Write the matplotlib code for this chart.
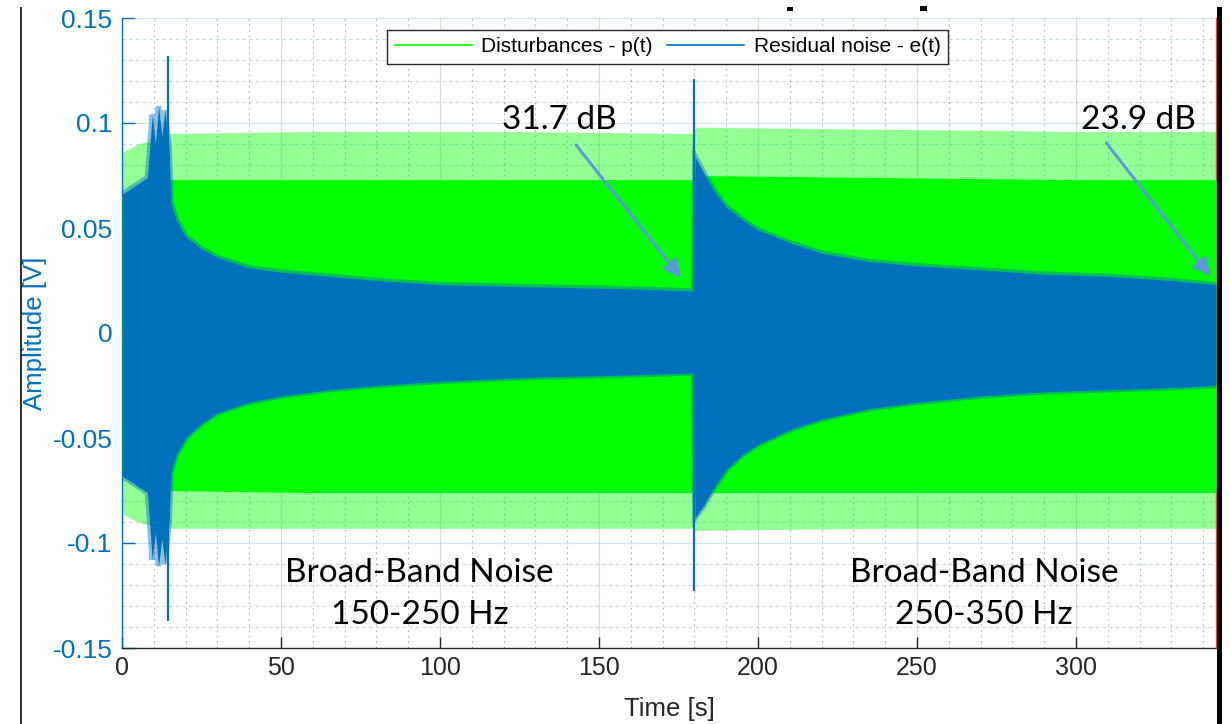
import matplotlib
matplotlib.use("Agg")
import matplotlib.pyplot as plt
from matplotlib.lines import Line2D
from matplotlib.patches import Rectangle
from matplotlib.ticker import MultipleLocator, FixedLocator

# ---------------- data ----------------
# Disturbance p(t): envelope of the dense body and of the spike tops
t_p = [0, 5, 10, 15, 60, 120, 179.5, 180.5, 240, 300, 344]
p_body_up = [0.066, 0.070, 0.072, 0.073, 0.073, 0.073, 0.073, 0.075, 0.074, 0.073, 0.073]
p_peak_up = [0.086, 0.090, 0.092, 0.095, 0.096, 0.096, 0.095, 0.098, 0.097, 0.096, 0.096]
p_body_lo = [-0.068, -0.072, -0.074, -0.075, -0.076, -0.076, -0.076, -0.076, -0.076, -0.076, -0.076]
p_peak_lo = [-0.086, -0.090, -0.092, -0.093, -0.093, -0.093, -0.093, -0.094, -0.093, -0.093, -0.093]

# Residual noise e(t): envelope of the dense body
t_e = [0, 4, 8, 9.5, 10.5, 11.5, 12.5, 13.5, 14.8, 15.4, 17, 20, 25, 30, 40, 50,
       65, 80, 100, 130, 160, 179.7,
       180.2, 183, 186, 190, 195, 200, 210, 220, 235, 250, 270, 290, 310, 330, 344]
e_up = [0.066, 0.070, 0.074, 0.104, 0.090, 0.108, 0.094, 0.106, 0.088, 0.062, 0.054, 0.046, 0.040, 0.036, 0.031, 0.029,
        0.027, 0.025, 0.023, 0.022, 0.021, 0.020,
        0.084, 0.076, 0.068, 0.060, 0.054, 0.049, 0.043, 0.038, 0.034, 0.032, 0.030, 0.028, 0.027, 0.025, 0.023]
e_lo = [-0.068, -0.072, -0.076, -0.108, -0.095, -0.111, -0.098, -0.110, -0.090, -0.066, -0.058, -0.050, -0.043, -0.038, -0.033, -0.030,
        -0.027, -0.025, -0.023, -0.021, -0.020, -0.019,
        -0.088, -0.082, -0.074, -0.065, -0.058, -0.053, -0.046, -0.041, -0.036, -0.033, -0.030, -0.028, -0.027, -0.026, -0.025]

# isolated spikes of e(t)
spike_t = [14.5, 180.0]
spike_top = [0.132, 0.121]
spike_bot = [-0.137, -0.123]

x_ticks = [0, 50, 100, 150, 200, 250, 300]
y_ticks = [-0.15, -0.1, -0.05, 0, 0.05, 0.1, 0.15]
y_tick_labels = ["-0.15", "-0.1", "-0.05", "0", "0.05", "0.1", "0.15"]

series_labels = ["Disturbances - p(t)", "Residual noise - e(t)"]
db_labels = ["31.7 dB", "23.9 dB"]
db_text_xy = [(137.5, 0.1015), (319.5, 0.1015)]
db_arrow_from = [(142.8, 0.0895), (309.5, 0.0905)]
db_arrow_to = [(175.8, 0.0262), (342.3, 0.0270)]
band_labels = ["Broad-Band Noise\n150-250 Hz", "Broad-Band Noise\n250-350 Hz"]
band_xy = [(93.5, -0.1243), (271.0, -0.1243)]

# ---------------- style ----------------
GREEN = "#00FF00"
BLUE = "#0072BD"
ORANGE = "#D95319"
DARK = "#262626"
ARROW = "#5B9BD5"

plt.rcParams["font.family"] = ["Liberation Sans", "DejaVu Sans"]

W, H = 1230, 724
fig = plt.figure(figsize=(W / 100, H / 100), dpi=100)
fig.patch.set_facecolor("white")
L, R, T, B = 122, 1216, 18, 648
ax = fig.add_axes([L / W, (H - B) / H, (R - L) / W, (B - T) / H])

# data
ax.fill_between(t_p, p_peak_lo, p_peak_up, color=GREEN, alpha=0.42, lw=0, zorder=2)
ax.fill_between(t_p, p_body_lo, p_body_up, color=GREEN, lw=0, zorder=3)
ax.fill_between(t_e, e_lo, e_up, color=BLUE, lw=0, zorder=4)
ax.plot(t_e, e_up, color=BLUE, lw=4, alpha=0.45, zorder=4, solid_joinstyle="miter")
ax.plot(t_e, e_lo, color=BLUE, lw=4, alpha=0.45, zorder=4, solid_joinstyle="miter")
ax.vlines(spike_t, spike_bot, spike_top, color=BLUE, lw=1.6, zorder=5)

# axes setup
ax.set_xlim(0, 344)
ax.set_ylim(-0.15, 0.15)
ax.xaxis.set_major_locator(FixedLocator(x_ticks))
ax.yaxis.set_major_locator(FixedLocator(y_ticks))
ax.set_yticklabels(y_tick_labels)
ax.xaxis.set_minor_locator(MultipleLocator(10))
ax.yaxis.set_minor_locator(MultipleLocator(0.01))

ax.grid(True, which="major", axis="x", color=DARK, alpha=0.15, lw=0.9, zorder=0)
ax.grid(True, which="minor", axis="x", color=DARK, alpha=0.35, lw=0.8, ls=(0, (1.5, 3.5)), zorder=0)
ax.grid(True, which="major", axis="y", color=BLUE, alpha=0.18, lw=0.9, zorder=0)
ax.grid(True, which="minor", axis="y", color=BLUE, alpha=0.25, lw=0.8, ls=(0, (3, 3)), zorder=0)
ax.set_axisbelow(True)

ax.spines["top"].set_visible(False)
ax.spines["left"].set_color(BLUE)
ax.spines["bottom"].set_color(DARK)
ax.spines["right"].set_color(ORANGE)
for s in ax.spines.values():
    s.set_linewidth(1.0)

ax.tick_params(axis="y", which="major", direction="in", length=9, width=1, color=BLUE,
               labelcolor=BLUE, labelsize=19, pad=7, right=False)
ax.tick_params(axis="x", which="major", direction="in", length=8, width=1, color=DARK,
               labelcolor=DARK, labelsize=18, pad=6, top=False)
ax.tick_params(which="minor", length=0)

ax.set_xlabel("Time [s]", fontsize=18.5, color=DARK)
ax.set_ylabel("Amplitude [V]", fontsize=18.5, color=BLUE)
ax.xaxis.set_label_coords(0.5, -0.077)
ax.yaxis.set_label_coords(-0.069, 0.5)

# legend
handles = [Line2D([], [], color=GREEN, lw=1.2), Line2D([], [], color=BLUE, lw=1.2)]
leg = ax.legend(handles, series_labels, loc="upper center", bbox_to_anchor=(0.4986, 0.981),
                borderaxespad=0, ncol=2, fontsize=15, frameon=True, fancybox=False,
                edgecolor=DARK, framealpha=1, handlelength=3.7, handletextpad=0.45,
                columnspacing=0.7, borderpad=0.35)
leg.get_frame().set_linewidth(1.0)
leg.set_zorder(10)

# annotations
ann_font = ["Lato", "DejaVu Sans"]
for lab, xy, p0, p1 in zip(db_labels, db_text_xy, db_arrow_from, db_arrow_to):
    ax.text(xy[0], xy[1], lab, fontsize=24, family=ann_font, color="black",
            ha="center", va="center", zorder=11)
    ax.annotate("", xy=p1, xytext=p0,
                arrowprops=dict(arrowstyle="-|>", color=ARROW, lw=2.2, mutation_scale=26,
                                shrinkA=0, shrinkB=0), zorder=11)
for lab, xy in zip(band_labels, band_xy):
    ax.text(xy[0], xy[1], lab, fontsize=24, family=ann_font, color="black",
            ha="center", va="center", linespacing=1.5, zorder=11)

# screenshot frame remnants
fig.add_artist(Rectangle((20 / W, 0), 1.5 / W, (H - 7) / H, transform=fig.transFigure,
                         color="#303030", lw=0))
fig.add_artist(Rectangle((1217 / W, 0), 4.5 / W, (H - 7) / H, transform=fig.transFigure,
                         color="black", lw=0))
fig.add_artist(Rectangle((787 / W, (H - 11) / H), 6 / W, 4 / H, transform=fig.transFigure,
                         color="black", lw=0))
fig.add_artist(Rectangle((920 / W, (H - 11) / H), 7 / W, 4.5 / H, transform=fig.transFigure,
                         color="black", lw=0))

fig.savefig("out.png", dpi=100, facecolor="white")
